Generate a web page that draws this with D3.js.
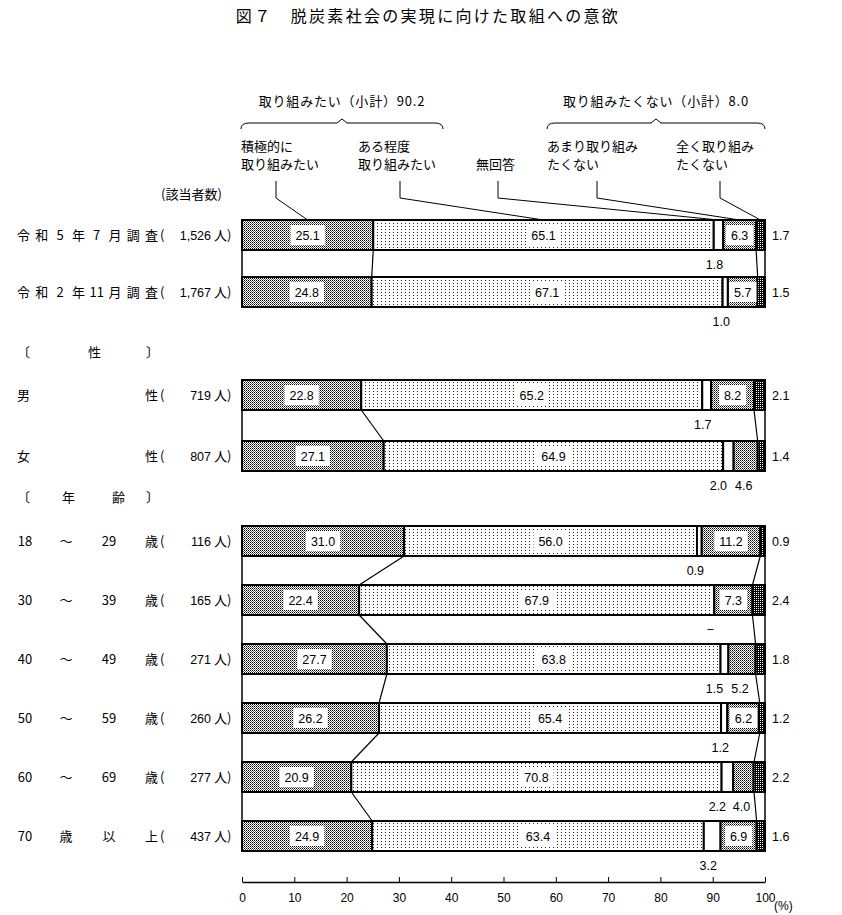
<!DOCTYPE html>
<html>
<head>
<meta charset="utf-8">
<script src="https://cdn.jsdelivr.net/npm/d3@7"></script>
<style>
  body { margin: 0; background: #fff; }
  text { font-family: "Liberation Sans", "Noto Sans CJK JP", sans-serif; fill: #000; }
  .jp { font-family: "Noto Sans CJK JP", sans-serif; }
</style>
</head>
<body>
<script>
// 行ラベル（文字を均等に並べる）
const rowParts = [
  ["令","和","5","年","7","月","調","査"],
  ["令","和","2","年","11","月","調","査"],
  ["男","性"],
  ["女","性"],
  ["18","〜","29","歳"],
  ["30","〜","39","歳"],
  ["40","〜","49","歳"],
  ["50","〜","59","歳"],
  ["60","〜","69","歳"],
  ["70","歳","以","上"]
];
const counts = ["1,526","1,767","719","807","116","165","271","260","277","437"];
const groups = [0, 0, 1, 1, 2, 2, 2, 2, 2, 2];

// 各回答の割合 (%)
const sekkyoku = [25.1, 24.8, 22.8, 27.1, 31.0, 22.4, 27.7, 26.2, 20.9, 24.9];
const aruteido = [65.1, 67.1, 65.2, 64.9, 56.0, 67.9, 63.8, 65.4, 70.8, 63.4];
const mukaitou = [1.8, 1.0, 1.7, 2.0, 0.9, 0, 1.5, 1.2, 2.2, 3.2];
const amari    = [6.3, 5.7, 8.2, 4.6, 11.2, 7.3, 5.2, 6.2, 4.0, 6.9];
const mattaku  = [1.7, 1.5, 2.1, 1.4, 0.9, 2.4, 1.8, 1.2, 2.2, 1.6];

const categories = ["積極的に\n取り組みたい", "ある程度\n取り組みたい", "無回答", "あまり取り組み\nたくない", "全く取り組み\nたくない"];
const catLabelX = [241, 358, 476, 547, 676];
const catLeaderX = [276, 400, 498, 597, 720];
const ticks = [0, 10, 20, 30, 40, 50, 60, 70, 80, 90, 100];

const width = 842, height = 915;
const svg = d3.select("body").append("svg").attr("width", width).attr("height", height);

// パターン
const defs = svg.append("defs");
const pCheck = defs.append("pattern").attr("id", "check").attr("width", 2).attr("height", 2)
  .attr("patternUnits", "userSpaceOnUse");
pCheck.append("rect").attr("width", 2).attr("height", 2).attr("fill", "#fff");
pCheck.append("rect").attr("width", 1).attr("height", 1).attr("fill", "#000");
pCheck.append("rect").attr("x", 1).attr("y", 1).attr("width", 1).attr("height", 1).attr("fill", "#666");
const pDot = defs.append("pattern").attr("id", "dot").attr("width", 4).attr("height", 3)
  .attr("patternUnits", "userSpaceOnUse");
pDot.append("rect").attr("width", 4).attr("height", 3).attr("fill", "#fff");
pDot.append("rect").attr("x", 1).attr("y", 1).attr("width", 1).attr("height", 1).attr("fill", "#222");
const pDark = defs.append("pattern").attr("id", "dark").attr("width", 2).attr("height", 2)
  .attr("patternUnits", "userSpaceOnUse");
pDark.append("rect").attr("width", 2).attr("height", 2).attr("fill", "#000");
pDark.append("rect").attr("width", 1).attr("height", 1).attr("fill", "#fff");

const fills = ["url(#check)", "url(#dot)", "#fff", "url(#check)", "url(#dark)"];

// 尺度
const x = d3.scaleLinear().domain([0, 100]).range([242, 765]);
const barH = 30;
const groupRanges = [[220, 307], [380, 471], [526, 851]];
const yScales = groupRanges.map((r, gi) => {
  const idx = d3.range(rowParts.length).filter(i => groups[i] === gi);
  const n = idx.length;
  const step = (r[1] - r[0] - barH) / (n - 1);
  return d3.scaleBand().domain(idx).range(r).paddingInner((step - barH) / step).paddingOuter(0);
});
const yTop = i => yScales[groups[i]](i);

const rows = d3.range(rowParts.length).map(i => {
  const vals = [sekkyoku[i], aruteido[i], mukaitou[i], amari[i], mattaku[i]];
  let c = 0;
  const segs = vals.map((v, k) => { const s = { k, v, x0: c, x1: c + v }; c += v; return s; });
  // 合計が100から外れた分は右端に合わせる
  const over = c - 100;
  segs.forEach(s => { if (s.k === 4) { s.x0 -= over; s.x1 -= over; } });
  return { i, segs };
});

// タイトル
svg.append("text").attr("class", "jp").attr("x", 428).attr("y", 22)
  .attr("text-anchor", "middle").attr("font-size", 16).attr("letter-spacing", 2.3)
  .text("図７　脱炭素社会の実現に向けた取組への意欲");

// グループの枠線
groupRanges.forEach(r => {
  [0, 100].forEach(v => {
    svg.append("line").attr("x1", x(v)).attr("x2", x(v)).attr("y1", r[0]).attr("y2", r[1])
      .attr("stroke", "#000").attr("stroke-width", 1.5);
  });
});

// 棒
const barG = svg.append("g");
rows.forEach(r => {
  const g = barG.append("g");
  g.selectAll("rect").data(r.segs.filter(s => s.v > 0)).join("rect")
    .attr("x", s => x(s.x0)).attr("y", yTop(r.i))
    .attr("width", s => x(s.x1) - x(s.x0)).attr("height", barH)
    .attr("fill", s => fills[s.k]).attr("stroke", "#000").attr("stroke-width", 2);
});

// 区切りを結ぶ線
for (let i = 0; i < rows.length - 1; i++) {
  if (groups[i] !== groups[i + 1]) continue;
  [0, 3].forEach(k => {
    svg.append("line")
      .attr("x1", x(rows[i].segs[k].x1)).attr("y1", yTop(i) + barH)
      .attr("x2", x(rows[i + 1].segs[k].x1)).attr("y2", yTop(i + 1))
      .attr("stroke", "#000").attr("stroke-width", 1.2);
  });
}

// 値ラベル
const fmt = v => v === 0 ? "−" : v.toFixed(1);
function boxedLabel(cx, cy, txt) {
  const t = svg.append("text").attr("x", cx).attr("y", cy).attr("dy", "0.36em")
    .attr("text-anchor", "middle").attr("font-size", 12.5).text(txt);
  const b = t.node().getBBox();
  svg.insert("rect", "text:last-child")
    .attr("x", b.x - 5).attr("y", cy - 10).attr("width", b.width + 10).attr("height", 20)
    .attr("fill", "#fff");
  t.raise();
}
rows.forEach(r => {
  const cy = yTop(r.i) + barH / 2;
  const s = r.segs;
  boxedLabel(x((s[0].x0 + s[0].x1) / 2), cy, fmt(s[0].v));
  boxedLabel(x((s[1].x0 + s[1].x1) / 2), cy, fmt(s[1].v));
  const below = yTop(r.i) + barH + 14;
  const amariInside = s[3].v >= 5.5;
  if (amariInside) {
    boxedLabel(x((s[3].x0 + s[3].x1) / 2), cy, fmt(s[3].v));
  } else {
    svg.append("text").attr("x", x((s[3].x0 + s[3].x1) / 2) - 2).attr("y", below).attr("dy", "0.36em")
      .attr("text-anchor", "middle").attr("font-size", 12.5).text(fmt(s[3].v));
  }
  const mx = x((s[2].x0 + s[2].x1) / 2) - (amariInside ? 4 : 10);
  svg.append("text").attr("x", mx).attr("y", below).attr("dy", "0.36em")
    .attr("text-anchor", "middle").attr("font-size", 12.5).text(fmt(s[2].v));
  svg.append("text").attr("x", 772).attr("y", cy).attr("dy", "0.36em")
    .attr("font-size", 12.5).text(fmt(s[4].v));
});

// 行ラベル
rows.forEach(r => {
  const cy = yTop(r.i) + barH / 2;
  const parts = rowParts[r.i];
  let xs;
  if (parts.length === 8) xs = d3.range(8).map(j => 23.5 + j * 18.3);
  else if (parts.length === 2) xs = [23.5, 151.5];
  else xs = [25, 66, 109, 151.5];
  parts.forEach((p, j) => {
    svg.append("text").attr("class", "jp").attr("x", xs[j]).attr("y", cy).attr("dy", "0.36em")
      .attr("text-anchor", "middle").attr("font-size", 13).text(p);
  });
  svg.append("text").attr("class", "jp").attr("x", 160).attr("y", cy).attr("dy", "0.36em")
    .attr("font-size", 13).text("(");
  svg.append("text").attr("x", 211).attr("y", cy).attr("dy", "0.36em")
    .attr("text-anchor", "end").attr("font-size", 12.5).text(counts[r.i]);
  svg.append("text").attr("class", "jp").attr("x", 214).attr("y", cy).attr("dy", "0.36em")
    .attr("font-size", 13).text("人)");
});

// 見出し
[[352, [["〔", 17], ["性", 88], ["〕", 146]]], [497, [["〔", 17], ["年", 62], ["齢", 112], ["〕", 146]]]]
  .forEach(([yy, items]) => items.forEach(([t, xx]) => {
    svg.append("text").attr("class", "jp").attr("x", xx).attr("y", yy).attr("dy", "0.36em")
      .attr("font-size", 13).text(t);
  }));
svg.append("text").attr("class", "jp").attr("x", 161).attr("y", 194).attr("dy", "0.36em")
  .attr("font-size", 13).text("(該当者数)");

// 小計と括弧
const braces = [
  { x0: 241, x1: 443, label: "取り組みたい（小計）90.2" },
  { x0: 547, x1: 765, label: "取り組みたくない（小計）8.0" }
];
braces.forEach(b => {
  const m = (b.x0 + b.x1) / 2, y0 = 129, y1 = 123;
  svg.append("path")
    .attr("d", `M${b.x0},${y0} Q${b.x0},${y1} ${b.x0 + 8},${y1} L${m - 5},${y1} L${m},${y1 - 4} L${m + 5},${y1} L${b.x1 - 8},${y1} Q${b.x1},${y1} ${b.x1},${y0}`)
    .attr("fill", "none").attr("stroke", "#000").attr("stroke-width", 1);
  svg.append("text").attr("class", "jp").attr("x", m).attr("y", 101).attr("dy", "0.36em")
    .attr("text-anchor", "middle").attr("font-size", 13).attr("letter-spacing", 0.8).text(b.label);
});

// 凡例ラベルと引き出し線
const firstTop = yTop(0);
categories.forEach((c, k) => {
  const lines = c.split("\n");
  lines.forEach((ln, j) => {
    svg.append("text").attr("class", "jp").attr("x", catLabelX[k])
      .attr("y", lines.length === 1 ? 164 : 146 + j * 18).attr("dy", "0.36em")
      .attr("font-size", 13).text(ln);
  });
  const s = rows[0].segs[k];
  svg.append("polyline")
    .attr("points", `${catLeaderX[k]},181 ${catLeaderX[k]},198 ${x((s.x0 + s.x1) / 2)},${firstTop}`)
    .attr("fill", "none").attr("stroke", "#000").attr("stroke-width", 1);
});

// x 軸
const axis = d3.axisBottom(x).tickValues(ticks).tickSize(-5).tickSizeOuter(0).tickPadding(11);
const ax = svg.append("g").attr("transform", "translate(0,882)").call(axis);
ax.select(".domain").attr("stroke-width", 1.5);
ax.selectAll("text").attr("font-size", 12).attr("font-family", "Liberation Sans, sans-serif");
svg.append("text").attr("x", 774).attr("y", 906).attr("dy", "0.36em").attr("font-size", 12).text("(%)");
</script>
</body>
</html>
